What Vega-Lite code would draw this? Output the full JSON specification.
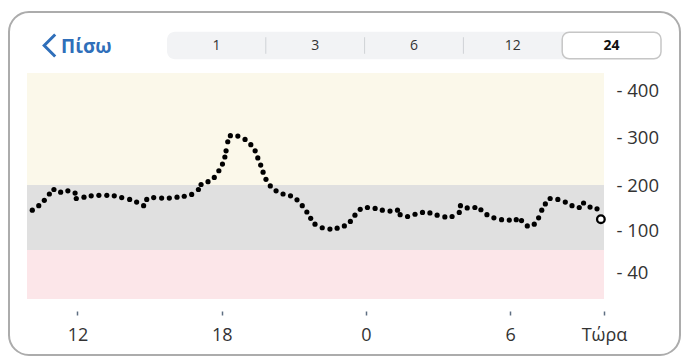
{
  "$schema": "https://vega.github.io/schema/vega-lite/v6.json",
  "autosize": {"type": "none"},
  "width": 671,
  "height": 343,
  "padding": {"left": 9, "top": 12, "right": 3, "bottom": 1},
  "background": "white",
  "config": {
    "view": {"stroke": "#acacac", "strokeWidth": 2, "cornerRadius": 20, "fill": "white"},
    "font": "Open Sans"
  },
  "datasets": {
    "bands": [
      {"zone": "high", "lo": 200, "hi": 440},
      {"zone": "target", "lo": 70, "hi": 200},
      {"zone": "low", "lo": 0, "hi": 70}
    ],
    "cgm": [
      {"t": 10.12, "g": 144, "kind": "past"},
      {"t": 10.39, "g": 154, "kind": "past"},
      {"t": 10.62, "g": 166, "kind": "past"},
      {"t": 10.83, "g": 180, "kind": "past"},
      {"t": 11.02, "g": 190, "kind": "past"},
      {"t": 11.30, "g": 184, "kind": "past"},
      {"t": 11.60, "g": 187, "kind": "past"},
      {"t": 11.90, "g": 182, "kind": "past"},
      {"t": 11.95, "g": 170, "kind": "past"},
      {"t": 12.27, "g": 173, "kind": "past"},
      {"t": 12.57, "g": 176, "kind": "past"},
      {"t": 12.89, "g": 177, "kind": "past"},
      {"t": 13.22, "g": 177, "kind": "past"},
      {"t": 13.53, "g": 176, "kind": "past"},
      {"t": 13.84, "g": 172, "kind": "past"},
      {"t": 14.17, "g": 168, "kind": "past"},
      {"t": 14.46, "g": 162, "kind": "past"},
      {"t": 14.75, "g": 154, "kind": "past"},
      {"t": 14.88, "g": 168, "kind": "past"},
      {"t": 15.17, "g": 172, "kind": "past"},
      {"t": 15.50, "g": 171, "kind": "past"},
      {"t": 15.82, "g": 171, "kind": "past"},
      {"t": 16.14, "g": 173, "kind": "past"},
      {"t": 16.44, "g": 175, "kind": "past"},
      {"t": 16.75, "g": 179, "kind": "past"},
      {"t": 17.03, "g": 190, "kind": "past"},
      {"t": 17.14, "g": 201, "kind": "past"},
      {"t": 17.43, "g": 207, "kind": "past"},
      {"t": 17.69, "g": 216, "kind": "past"},
      {"t": 17.88, "g": 230, "kind": "past"},
      {"t": 18.03, "g": 244, "kind": "past"},
      {"t": 18.13, "g": 259, "kind": "past"},
      {"t": 18.18, "g": 272, "kind": "past"},
      {"t": 18.25, "g": 291, "kind": "past"},
      {"t": 18.36, "g": 304, "kind": "past"},
      {"t": 18.67, "g": 303, "kind": "past"},
      {"t": 18.97, "g": 296, "kind": "past"},
      {"t": 19.21, "g": 285, "kind": "past"},
      {"t": 19.39, "g": 272, "kind": "past"},
      {"t": 19.50, "g": 257, "kind": "past"},
      {"t": 19.62, "g": 242, "kind": "past"},
      {"t": 19.72, "g": 227, "kind": "past"},
      {"t": 19.84, "g": 212, "kind": "past"},
      {"t": 20.02, "g": 198, "kind": "past"},
      {"t": 20.26, "g": 187, "kind": "past"},
      {"t": 20.55, "g": 180, "kind": "past"},
      {"t": 20.86, "g": 176, "kind": "past"},
      {"t": 21.13, "g": 167, "kind": "past"},
      {"t": 21.35, "g": 154, "kind": "past"},
      {"t": 21.54, "g": 140, "kind": "past"},
      {"t": 21.70, "g": 126, "kind": "past"},
      {"t": 21.88, "g": 113, "kind": "past"},
      {"t": 22.18, "g": 105, "kind": "past"},
      {"t": 22.50, "g": 102, "kind": "past"},
      {"t": 22.80, "g": 104, "kind": "past"},
      {"t": 23.10, "g": 109, "kind": "past"},
      {"t": 23.35, "g": 119, "kind": "past"},
      {"t": 23.54, "g": 133, "kind": "past"},
      {"t": 23.76, "g": 146, "kind": "past"},
      {"t": 24.06, "g": 150, "kind": "past"},
      {"t": 24.38, "g": 148, "kind": "past"},
      {"t": 24.68, "g": 144, "kind": "past"},
      {"t": 25.00, "g": 142, "kind": "past"},
      {"t": 25.31, "g": 144, "kind": "past"},
      {"t": 25.42, "g": 134, "kind": "past"},
      {"t": 25.73, "g": 130, "kind": "past"},
      {"t": 26.04, "g": 135, "kind": "past"},
      {"t": 26.35, "g": 139, "kind": "past"},
      {"t": 26.66, "g": 138, "kind": "past"},
      {"t": 26.96, "g": 133, "kind": "past"},
      {"t": 27.28, "g": 129, "kind": "past"},
      {"t": 27.58, "g": 130, "kind": "past"},
      {"t": 27.88, "g": 139, "kind": "past"},
      {"t": 27.93, "g": 154, "kind": "past"},
      {"t": 28.21, "g": 149, "kind": "past"},
      {"t": 28.53, "g": 150, "kind": "past"},
      {"t": 28.78, "g": 145, "kind": "past"},
      {"t": 29.03, "g": 134, "kind": "past"},
      {"t": 29.32, "g": 127, "kind": "past"},
      {"t": 29.64, "g": 123, "kind": "past"},
      {"t": 29.96, "g": 122, "kind": "past"},
      {"t": 30.25, "g": 123, "kind": "past"},
      {"t": 30.47, "g": 121, "kind": "past"},
      {"t": 30.71, "g": 109, "kind": "past"},
      {"t": 31.00, "g": 113, "kind": "past"},
      {"t": 31.18, "g": 127, "kind": "past"},
      {"t": 31.31, "g": 144, "kind": "past"},
      {"t": 31.46, "g": 158, "kind": "past"},
      {"t": 31.66, "g": 170, "kind": "past"},
      {"t": 31.98, "g": 168, "kind": "past"},
      {"t": 32.29, "g": 162, "kind": "past"},
      {"t": 32.57, "g": 154, "kind": "past"},
      {"t": 32.87, "g": 150, "kind": "past"},
      {"t": 33.05, "g": 160, "kind": "past"},
      {"t": 33.32, "g": 151, "kind": "past"},
      {"t": 33.61, "g": 147, "kind": "past"},
      {"t": 33.77, "g": 124, "kind": "current"}
    ],
    "seg": [
      {"h": "1", "sel": false},
      {"h": "3", "sel": false},
      {"h": "6", "sel": false},
      {"h": "12", "sel": false},
      {"h": "24", "sel": true}
    ],
    "back": [{"label": "Πίσω"}]
  },
  "layer": [
    {
      "layer": [
        {
          "data": {"name": "bands"},
          "mark": {"type": "rect"},
          "encoding": {
            "x": {
              "datum": 9.9, "type": "quantitative",
              "scale": {"domain": [9.9, 33.9], "range": [18, 595], "nice": false, "zero": false},
              "axis": {
                "orient": "bottom", "offset": -44, "values": [12, 18, 24, 30, 33.9],
                "labelExpr": "datum.value > 33 ? 'Τώρα' : (datum.value >= 24 ? format(datum.value - 24, 'd') : format(datum.value, 'd'))",
                "domain": false, "grid": false, "tickSize": 4, "tickWidth": 1.5, "tickColor": "#5f6f82",
                "labelFontSize": 18, "labelColor": "#333333", "labelPadding": 11, "labelFlush": false, "title": null
              }
            },
            "x2": {"datum": 33.9},
            "y": {
              "field": "lo", "type": "quantitative",
              "scale": {"type": "linear", "domain": [0, 40, 70, 100, 200, 300, 400, 440], "range": [287, 260.5, 238, 218, 173, 125.5, 78.8, 61], "nice": false, "zero": false},
              "axis": {
                "orient": "right", "offset": -76, "values": [40, 100, 200, 300, 400],
                "labelExpr": "'- ' + datum.label", "ticks": false, "domain": false, "grid": false,
                "labelFontSize": 18.5, "labelColor": "#333333", "labelPadding": 12, "labelFlush": false, "title": null
              }
            },
            "y2": {"field": "hi"},
            "color": {
              "field": "zone", "type": "nominal",
              "scale": {"domain": ["high", "target", "low"], "range": ["#fbf8ea", "#e0e0e0", "#fce6e9"]},
              "legend": null
            }
          }
        },
        {
          "data": {"name": "cgm"},
          "transform": [{"filter": "datum.kind === 'past'"}],
          "mark": {"type": "point", "filled": true, "size": 27, "color": "#000000", "opacity": 1},
          "encoding": {
            "x": {"field": "t", "type": "quantitative"},
            "y": {"field": "g", "type": "quantitative"}
          }
        },
        {
          "data": {"name": "cgm"},
          "transform": [{"filter": "datum.kind === 'current'"}],
          "mark": {"type": "point", "filled": false, "size": 58, "stroke": "#000000", "fill": "#ffffff", "strokeWidth": 2.3, "opacity": 1},
          "encoding": {
            "x": {"field": "t", "type": "quantitative"},
            "y": {"field": "g", "type": "quantitative"}
          }
        }
      ]
    },
    {
      "layer": [
        {
          "layer": [
            {
              "data": {"values": [{}]},
              "mark": {"type": "rect", "cornerRadius": 8, "color": "#f2f3f5"},
              "encoding": {
                "x": {
                  "datum": "1", "type": "nominal", "bandPosition": 0,
                  "scale": {"type": "band", "domain": ["1", "3", "6", "12", "24"], "range": [158, 652], "paddingInner": 0, "paddingOuter": 0},
                  "axis": null
                },
                "x2": {"datum": "24", "bandPosition": 1},
                "y": {"datum": 0, "type": "quantitative", "scale": {"domain": [0, 1], "range": [47.3, 19.7], "nice": false, "zero": false}, "axis": null},
                "y2": {"datum": 1}
              }
            },
            {
              "data": {"name": "seg"},
              "transform": [{"filter": "indexof(['3','6','12'], datum.h) >= 0"}],
              "mark": {"type": "rule", "color": "#cfd2d6", "strokeWidth": 1},
              "encoding": {
                "x": {"field": "h", "type": "nominal", "bandPosition": 0},
                "y": {"datum": 0.2, "type": "quantitative"},
                "y2": {"datum": 0.8}
              }
            },
            {
              "data": {"name": "seg"},
              "transform": [{"filter": "datum.sel"}],
              "mark": {"type": "rect", "cornerRadius": 7, "fill": "#ffffff", "stroke": "#c6c6c6", "strokeWidth": 1.5},
              "encoding": {
                "x": {"field": "h", "type": "nominal"},
                "y": {"datum": 0.02, "type": "quantitative"},
                "y2": {"datum": 0.98}
              }
            },
            {
              "data": {"name": "seg"},
              "transform": [{"filter": "!datum.sel"}],
              "mark": {"type": "text", "fontSize": 14, "color": "#333333", "baseline": "middle"},
              "encoding": {
                "x": {"field": "h", "type": "nominal"},
                "y": {"datum": 0.5, "type": "quantitative"},
                "text": {"field": "h"}
              }
            },
            {
              "data": {"name": "seg"},
              "transform": [{"filter": "datum.sel"}],
              "mark": {"type": "text", "fontSize": 14, "fontWeight": "bold", "color": "#111111", "baseline": "middle"},
              "encoding": {
                "x": {"field": "h", "type": "nominal"},
                "y": {"datum": 0.5, "type": "quantitative"},
                "text": {"field": "h"}
              }
            }
          ]
        },
        {
          "data": {"name": "back"},
          "layer": [
            {
              "mark": {"type": "point", "shape": "M0.5,-1L-0.5,0L0.5,1", "filled": false, "size": 484, "stroke": "#2f6fba", "strokeWidth": 3, "opacity": 1},
              "encoding": {
                "x": {"datum": 0, "type": "quantitative", "scale": {"domain": [0, 1], "range": [40.7, 52], "nice": false, "zero": false}, "axis": null},
                "y": {"datum": 0.5, "type": "quantitative"}
              }
            },
            {
              "mark": {"type": "text", "fontSize": 19, "fontWeight": "bold", "color": "#2f6fba", "align": "left", "baseline": "middle", "dy": 1},
              "encoding": {
                "x": {"datum": 1, "type": "quantitative"},
                "y": {"datum": 0.5, "type": "quantitative"},
                "text": {"field": "label"}
              }
            }
          ]
        }
      ],
      "resolve": {"scale": {"x": "independent"}}
    }
  ],
  "resolve": {"scale": {"x": "independent", "y": "independent"}}
}
